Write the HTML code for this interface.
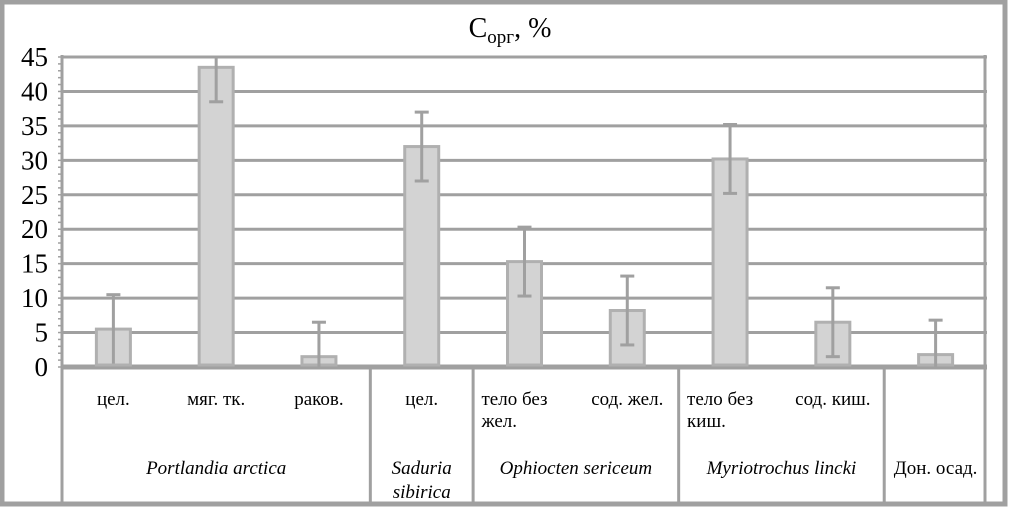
<!DOCTYPE html>
<html><head><meta charset="utf-8"><style>
body{margin:0;background:#fff}
svg text{font-family:"Liberation Serif","DejaVu Serif",serif}
</style></head><body>
<svg id="c" width="1010" height="525" font-family="Liberation Serif, DejaVu Serif, serif">
<rect x="2" y="2" width="1003" height="502" fill="#fff" stroke="#a0a0a0" stroke-width="5"/>
<text x="510" y="37" font-size="28" text-anchor="middle">C<tspan font-size="19" dy="6">орг</tspan><tspan dy="-6">, %</tspan></text>
<g id="g"></g>
</svg>
<script>
const values=[5.5,43.5,1.5,32,15.3,8.2,30.2,6.5,1.8];
const errors=[5,5,5,5,5,5,5,5,5];
const subLabels=[["цел."],["мяг. тк."],["раков."],["цел."],["тело без","жел."],["сод. жел."],["тело без","киш."],["сод. киш."],[""]];
const groups=["Portlandia arctica","Saduria sibirica","Ophiocten sericeum","Myriotrochus lincki","Дон. осад."];
const groupSizes=[3,1,2,2,1];
const yTicks=[0,5,10,15,20,25,30,35,40,45];
const NS="http://www.w3.org/2000/svg";
const g=document.getElementById('g');
const X0=62,X1=987,Y0=367,Ymax=45,Ytop=57;
const cw=(X1-X0)/values.length;
const y=v=>Y0-(v/Ymax)*(Y0-Ytop);
const xc=i=>X0+cw*(i+0.5);
function mk(t,a){const e=document.createElementNS(NS,t);for(const k in a)e.setAttribute(k,a[k]);g.appendChild(e);return e;}
yTicks.forEach(v=>{
 const l=mk('line',{x1:X0,x2:X1,y1:y(v),y2:y(v),stroke:'#a0a0a0','stroke-width':v===0?5:3});
 
 
 const t=mk('text',{x:48,y:y(v)+9,'font-size':27,'text-anchor':'end'});t.textContent=v;
 
 
});
for(let v=0;v<=45;v+=1){mk('line',{x1:X0-4,x2:X0,y1:y(v),y2:y(v),stroke:'#a0a0a0','stroke-width':1.5});}
const ax=mk('line',{x1:X0,x2:X0,y1:Ytop-2,y2:503,stroke:'#a0a0a0','stroke-width':3});


const rx=mk('line',{x1:X1-2,x2:X1-2,y1:Ytop-2,y2:503,stroke:'#a0a0a0','stroke-width':3});


values.forEach((v,i)=>{
 const bw=34;
 const b=mk('rect',{x:xc(i)-bw/2,y:y(v),width:bw,height:Y0-2-y(v),fill:'#d3d3d3',stroke:'#b0b0b0','stroke-width':3});
 
 
 const hi=Math.min(v+errors[i],Ymax),lo=Math.max(v-errors[i],0);
 const e=mk('line',{x1:xc(i),x2:xc(i),y1:y(hi),y2:y(lo),stroke:'#a0a0a0','stroke-width':3});
 
 
 if(v+errors[i]<=Ymax)mk('line',{x1:xc(i)-7,x2:xc(i)+7,y1:y(hi),y2:y(hi),stroke:'#a0a0a0','stroke-width':3});
 if(v-errors[i]>1)mk('line',{x1:xc(i)-7,x2:xc(i)+7,y1:y(lo),y2:y(lo),stroke:'#a0a0a0','stroke-width':3});
 subLabels[i].forEach((s,k)=>{
  const two=subLabels[i].length>1;
  const t=mk('text',{x:two?xc(i)-43:xc(i),y:405+k*22,'font-size':19,'text-anchor':two?'start':'middle'});t.textContent=s;
  
  
 });
});
let idx=0;
groups.forEach((name,gi)=>{
 const n=groupSizes[gi];const xs=X0+cw*idx,xe=X0+cw*(idx+n);
 if(gi>0){const l=mk('line',{x1:xs,x2:xs,y1:Y0,y2:503,stroke:'#a0a0a0','stroke-width':3});
  
  }
 const italic=gi<4;
 let words=[name];if(n===1&&italic)words=name.split(' ');
 words.forEach((w,k)=>{
  const t=mk('text',{x:(xs+xe)/2,y:474+k*24,'font-size':19,'text-anchor':'middle','font-style':italic?'italic':'normal'});
  t.textContent=w;
  
  
 });
 idx+=n;
});
</script>
</body></html>
